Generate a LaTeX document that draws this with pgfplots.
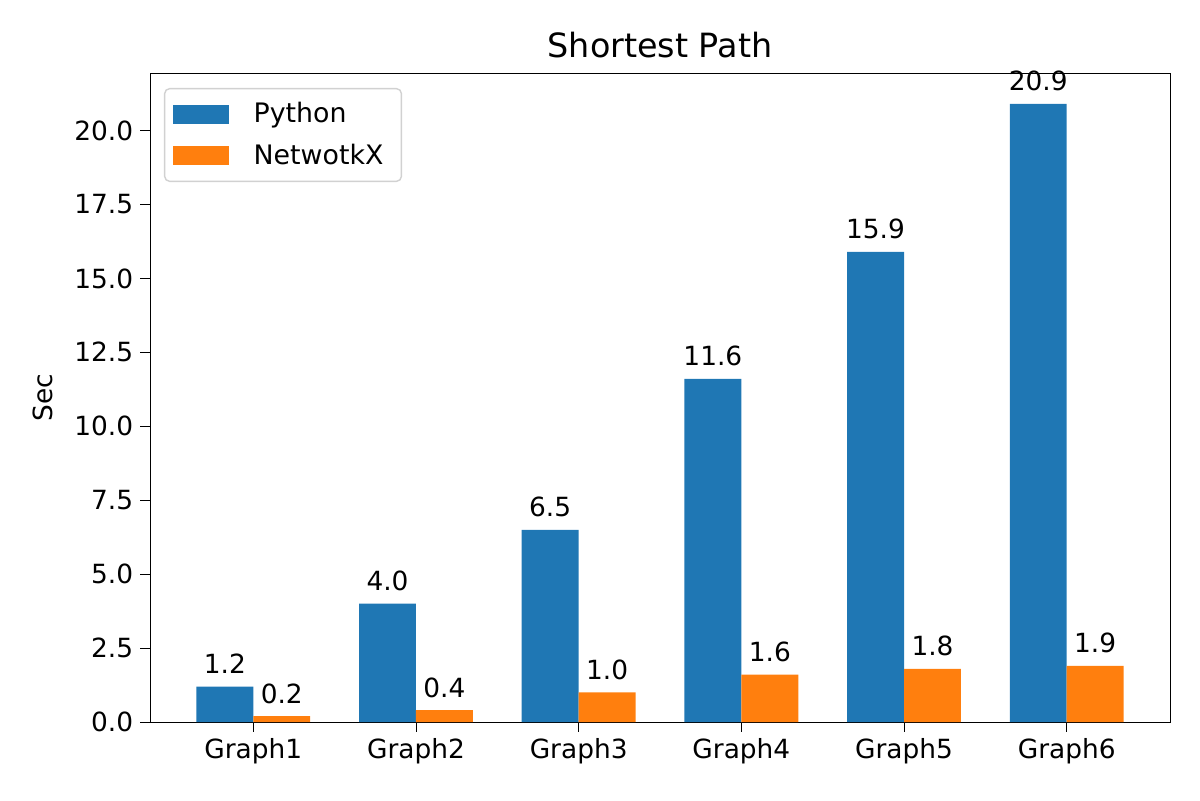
\documentclass[border=0pt]{standalone}
\usepackage{pgfplots}
\pgfplotsset{compat=1.18}
\usepackage{fontspec}
\setmainfont{DejaVu Sans}
\definecolor{mplblue}{HTML}{1F77B4}
\definecolor{mplorange}{HTML}{FF7F0E}
\begin{document}
\begin{tikzpicture}
\begin{axis}[
  at={(0,0)}, anchor=south west,
  scale only axis,
  width=510pt, height=324.5pt,
  xmin=-0.635, xmax=5.635,
  ymin=0, ymax=21.945,
  xtick={0,1,2,3,4,5},
  xticklabels={Graph1,Graph2,Graph3,Graph4,Graph5,Graph6},
  ytick={0,2.5,5,7.5,10,12.5,15,17.5,20},
  yticklabel style={/pgf/number format/.cd,fixed,fixed zerofill,precision=1},
  /pgf/number format/assume math mode=true,
  tick align=outside,
  xtick pos=bottom, ytick pos=left,
  major tick length=4.9pt,
  tick style={black, line width=0.4pt},
  ticklabel style={font=\fontsize{13.2pt}{15pt}\selectfont},
  ylabel={Sec},
  ylabel style={font=\fontsize{13.2pt}{15pt}\selectfont, yshift=4pt},
  title={Shortest Path},
  title style={font=\fontsize{16.7pt}{19pt}\selectfont, yshift=-2pt},
  axis line style={line width=0.4pt},
  ybar,
  bar width=0.35,
  nodes near coords,
  nodes near coords style={font=\fontsize{13.2pt}{15pt}\selectfont, yshift=2.8pt, /pgf/number format/.cd, fixed, fixed zerofill, precision=1, /pgf/number format/assume math mode=true},
  legend style={at={(0.0137,0.977)}, anchor=north west, draw=black!18, line width=0.7pt, rounded corners=2.5pt, font=\fontsize{13.4pt}{15pt}\selectfont, inner xsep=4pt, inner ysep=5pt, row sep=5pt, column sep=7.5pt, nodes={inner xsep=5pt}},
  legend cell align=left,
  legend image code/.code={\fill[#1, draw=none, sharp corners] (0pt,-4.6pt) rectangle (28pt,4.9pt);},
]
\addplot[fill=mplblue, draw=none, bar shift=-0.175] coordinates {(0,1.2) (1,4.0) (2,6.5) (3,11.6) (4,15.9) (5,20.9)};
\addplot[fill=mplorange, draw=none, bar shift=0.175] coordinates {(0,0.2) (1,0.4) (2,1.0) (3,1.6) (4,1.8) (5,1.9)};
\legend{Python, NetwotkX}
\end{axis}
\pgfresetboundingbox
\path[use as bounding box] (-75pt,-39pt) rectangle (525pt,361pt);
\end{tikzpicture}
\end{document}
